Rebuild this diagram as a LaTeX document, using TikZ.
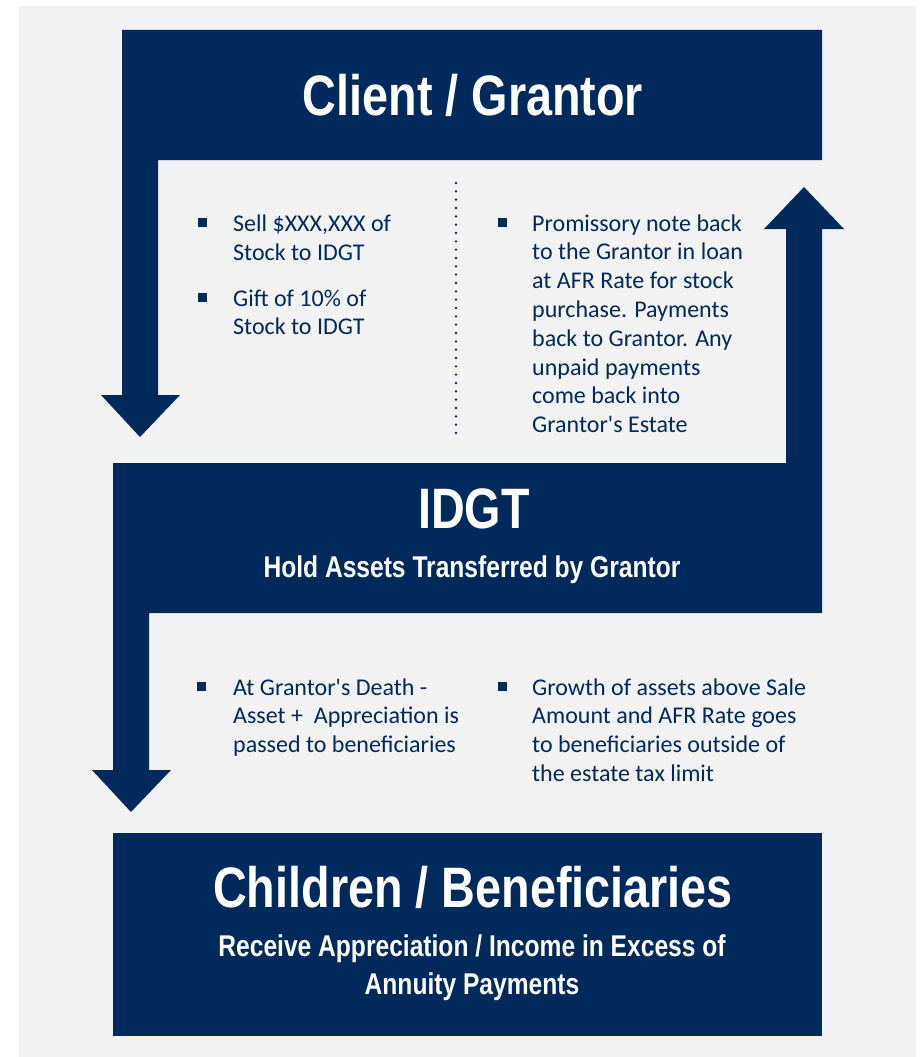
\documentclass[tikz,border=0pt]{standalone}
\usepackage{fontspec}
\setmainfont{Carlito}
\newfontfamily\headfont[FakeStretch=0.82]{Liberation Sans}
\definecolor{navy}{HTML}{002A5C}
\definecolor{panel}{HTML}{F2F2F2}
\tikzset{
  flowshape/.style={fill=navy},
  bulletmark/.style={fill=navy},
  divider/.style={draw=navy, line width=2.6pt, line cap=round, dash pattern=on 0pt off 8.3334pt},
  titletext/.style={text=white, inner sep=0pt, anchor=base, font=\headfont\bfseries\fontsize{57}{60}\selectfont},
  subtext/.style={text=white, inner sep=0pt, anchor=base, font=\headfont\bfseries\fontsize{30}{38}\selectfont},
  bodytext/.style={text=navy, inner sep=0pt, anchor=base west, font=\fontsize{24}{28.8}\selectfont},
}
\newcommand{\itemtext}[2]{\parbox[t]{#1}{\raggedright #2}}
\newcommand{\apos}{\textquotesingle}
\begin{document}
\begin{tikzpicture}[x=1pt,y=-1pt]
  \useasboundingbox (0,0) rectangle (919,1057);
  \fill[white] (0,0) rectangle (919,1057);
  \fill[panel] (19,6) rectangle (916,1057);

  % Client / Grantor banner with the arm and arrow going down to the trust
  \fill[flowshape] (122,30) -- (822,30) -- (822,160) -- (158,160) -- (158,395)
    -- (180,395) -- (140,437) -- (101,395) -- (122,395) -- cycle;

  % IDGT banner, with the arrow back up to the grantor and the arrow down to the beneficiaries
  \fill[flowshape] (113,463) -- (786,463) -- (786,229) -- (764,229) -- (804,187)
    -- (844,229) -- (822,229) -- (822,613) -- (149,613) -- (149,770)
    -- (171,770) -- (131,812) -- (92,770) -- (113,770) -- cycle;

  % Children / Beneficiaries banner
  \fill[flowshape] (113,833) rectangle (822,1036);

  % titles
  \node[titletext] (client) at (473,115) {Client / Grantor};
  \node[titletext] (idgt) at (474,528) {IDGT};
  \node[subtext] (idgtsub) at (472,577) {Hold Assets Transferred by Grantor};
  \node[titletext] (children) at (473,907) {Children / Beneficiaries};
  \node[subtext] (childsub1) at (472,956) {Receive Appreciation / Income in Excess of};
  \node[subtext] (childsub2) at (472,994) {Annuity Payments};

  % divider between the two upper columns
  \coordinate (divtop) at (456,183);
  \coordinate (divbot) at (456,433.5);
  \draw[divider] (divtop) -- (divbot);

  % upper left column
  \fill[bulletmark] (198,218) rectangle ++(9,9);
  \node[bodytext] (sell) at (233,231.5) {\itemtext{210pt}{Sell \$XXX,XXX of\\Stock to IDGT}};
  \fill[bulletmark] (198,292.5) rectangle ++(9,9);
  \node[bodytext] (gift) at (233,306) {\itemtext{210pt}{Gift of 10\% of\\Stock to IDGT}};

  % upper right column
  \fill[bulletmark] (498,217.5) rectangle ++(9,9);
  \node[bodytext] (note) at (532,231) {\itemtext{240pt}{Promissory note back\\to the Grantor in loan\\at AFR Rate for stock\\purchase. Payments\\back to Grantor. Any\\unpaid payments\\come back into\\Grantor\apos s Estate}};

  % lower columns
  \fill[bulletmark] (197,681.5) rectangle ++(9,9);
  \node[bodytext] (death) at (233,695) {\itemtext{240pt}{At Grantor\apos s Death -\\Asset +\ \ Appreciation is\\passed to beneficiaries}};
  \fill[bulletmark] (498,681.5) rectangle ++(9,9);
  \node[bodytext] (growth) at (532,695) {\itemtext{290pt}{Growth of assets above Sale\\Amount and AFR Rate goes\\to beneficiaries outside of\\the estate tax limit}};
\end{tikzpicture}
\end{document}
